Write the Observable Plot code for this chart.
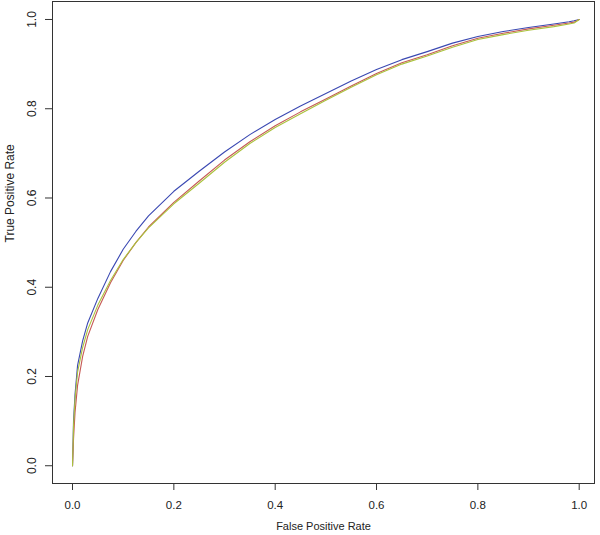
<!DOCTYPE html>
<html>
<head>
<meta charset="utf-8">
<script src="https://cdn.jsdelivr.net/npm/d3@7"></script>
<script src="https://cdn.jsdelivr.net/npm/@observablehq/plot@0.6"></script>
<style>
  html, body { margin: 0; padding: 0; background: #fff; }
  #chart { width: 600px; height: 535px; }
</style>
</head>
<body>
<div id="chart"></div>
<script>
const fpr = [0, 0.002, 0.005, 0.01, 0.02, 0.03, 0.05, 0.075, 0.1, 0.125, 0.15, 0.2, 0.25, 0.3, 0.35, 0.4, 0.45, 0.5, 0.55, 0.6, 0.65, 0.7, 0.75, 0.8, 0.85, 0.9, 0.95, 0.98, 0.99, 1.0];
const tprBlue  = [0, 0.10, 0.16, 0.225, 0.28, 0.32, 0.375, 0.435, 0.485, 0.525, 0.56, 0.615, 0.66, 0.703, 0.742, 0.776, 0.806, 0.834, 0.862, 0.888, 0.91, 0.928, 0.947, 0.962, 0.973, 0.982, 0.99, 0.995, 0.997, 1];
const tprRed   = [0, 0.06, 0.12, 0.18, 0.245, 0.29, 0.35, 0.41, 0.46, 0.50, 0.535, 0.59, 0.638, 0.685, 0.726, 0.762, 0.793, 0.822, 0.851, 0.879, 0.903, 0.921, 0.941, 0.958, 0.969, 0.979, 0.987, 0.992, 0.994, 1];
const tprGreen = [0, 0.09, 0.15, 0.21, 0.265, 0.305, 0.36, 0.415, 0.462, 0.50, 0.533, 0.587, 0.633, 0.680, 0.722, 0.758, 0.789, 0.819, 0.848, 0.876, 0.90, 0.918, 0.938, 0.955, 0.966, 0.976, 0.984, 0.99, 0.992, 1];
const ticks = [0, 0.2, 0.4, 0.6, 0.8, 1.0];
const tickLabels = ["0.0", "0.2", "0.4", "0.6", "0.8", "1.0"];
const xTitle = "False Positive Rate";
const yTitle = "True Positive Rate";

const series = [
  {name: "model A", tpr: tprBlue, color: "#3a48b2"},
  {name: "model B", tpr: tprRed, color: "#c65a55"},
  {name: "model C", tpr: tprGreen, color: "#aac23c"}
];
const rows = [];
for (const s of series) fpr.forEach((f, i) => rows.push({series: s.name, fpr: f, tpr: s.tpr[i]}));
const tickRows = ticks.map((t, i) => ({v: t, label: tickLabels[i]}));

const chart = Plot.plot({
  width: 600,
  height: 535,
  marginLeft: 52,
  marginRight: 6,
  marginTop: 1,
  marginBottom: 52,
  style: {fontFamily: "'Liberation Sans', Arial, sans-serif", fontSize: "12px", color: "#222", background: "#fff"},
  x: {domain: [-0.0395, 1.0302], ticks: ticks, label: null},
  y: {domain: [-0.0398, 1.0403], ticks: ticks, label: null},
  color: {type: "ordinal", domain: series.map(s => s.name), range: series.map(s => s.color)},
  marks: [
    Plot.axisX({ticks: ticks, tickSize: 7, tickPadding: 10, tickFormat: (d) => tickLabels[ticks.indexOf(d)], stroke: "#333", fill: "#222", fontSize: 11.5}),
    Plot.axisY({ticks: ticks, tickSize: 7, tickFormat: () => "", stroke: "#333"}),
    Plot.text(tickRows, {y: "v", text: "label", frameAnchor: "left", dx: -20, rotate: -90, textAnchor: "middle", lineAnchor: "middle", fill: "#222", fontSize: 12}),
    Plot.text([xTitle], {text: d => d, frameAnchor: "bottom", dy: 43, lineAnchor: "middle", fill: "#222", fontSize: 11}),
    Plot.text([yTitle], {text: d => d, frameAnchor: "left", dx: -42, rotate: -90, lineAnchor: "middle", fill: "#222", fontSize: 12}),
    Plot.line(rows, {x: "fpr", y: "tpr", z: "series", stroke: "series", strokeWidth: 1.1}),
    Plot.frame({stroke: "#333", strokeWidth: 1})
  ]
});
document.getElementById("chart").appendChild(chart);
</script>
</body>
</html>
